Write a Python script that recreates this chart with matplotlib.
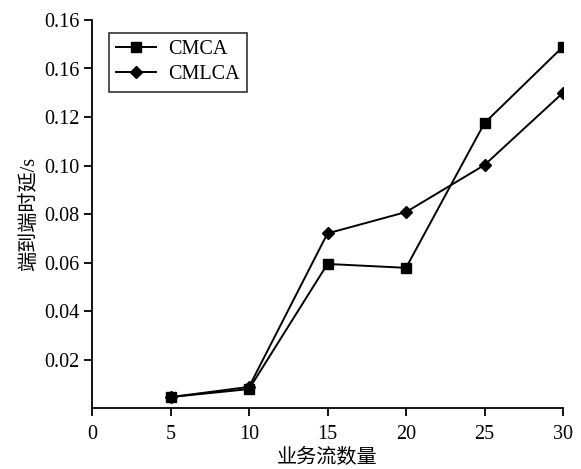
import matplotlib
matplotlib.use("Agg")
import matplotlib.pyplot as plt

x_vals = [5, 10, 15, 20, 25, 30]
cmca = [0.0045, 0.0078, 0.0594, 0.0578, 0.1175, 0.1490]
cmlca = [0.0045, 0.0087, 0.0720, 0.0808, 0.1002, 0.1300]
series_names = ["CMCA", "CMLCA"]
x_ticks = [0, 5, 10, 15, 20, 25, 30]
y_ticks = [0.02, 0.04, 0.06, 0.08, 0.10, 0.12, 0.14, 0.16]
y_tick_labels = ["0.02", "0.04", "0.06", "0.08", "0.10", "0.12", "0.16", "0.16"]
x_label = "业务流数量"
y_label = "端到端时延/s"

plt.rcParams['font.family'] = ['Liberation Serif', 'Noto Sans CJK SC']

fig = plt.figure(figsize=(5.81, 4.69), dpi=100)
ax = fig.add_axes([92/581, 1-408/469, (563-92)/581, (408-20)/469])

ax.plot(x_vals, cmlca, color='black', lw=1.4, marker='D', ms=6.5, label=series_names[1], zorder=3)
ax.plot(x_vals, cmca, color='black', lw=1.4, marker='s', ms=7.5, label=series_names[0], zorder=4)

ax.set_xlim(0, 30)
ax.set_ylim(0, 0.16)
ax.set_xticks(x_ticks)
ax.set_xticklabels([str(v) for v in x_ticks])
ax.set_yticks(y_ticks)
ax.set_yticklabels(y_tick_labels)

for s in ['top', 'right']:
    ax.spines[s].set_visible(False)
for s in ['left', 'bottom']:
    ax.spines[s].set_linewidth(1.3)

ax.tick_params(axis='both', direction='out', length=6, width=1.3, labelsize=14.5, pad=3)
ax.tick_params(axis='x', pad=6)

ax.set_xlabel(x_label, fontsize=14.5, labelpad=4)
ax.set_ylabel(y_label, fontsize=14.5, labelpad=4)

handles, labels = ax.get_legend_handles_labels()
leg = ax.legend(handles[::-1], labels[::-1], loc='upper left', bbox_to_anchor=(0.036, 0.966),
                borderaxespad=0, fontsize=14.5, frameon=True, fancybox=False, edgecolor='black',
                handlelength=2.0, handletextpad=0.6, borderpad=0.35, labelspacing=0.3)
leg.get_frame().set_linewidth(1.2)

fig.savefig("out.png", dpi=100)
